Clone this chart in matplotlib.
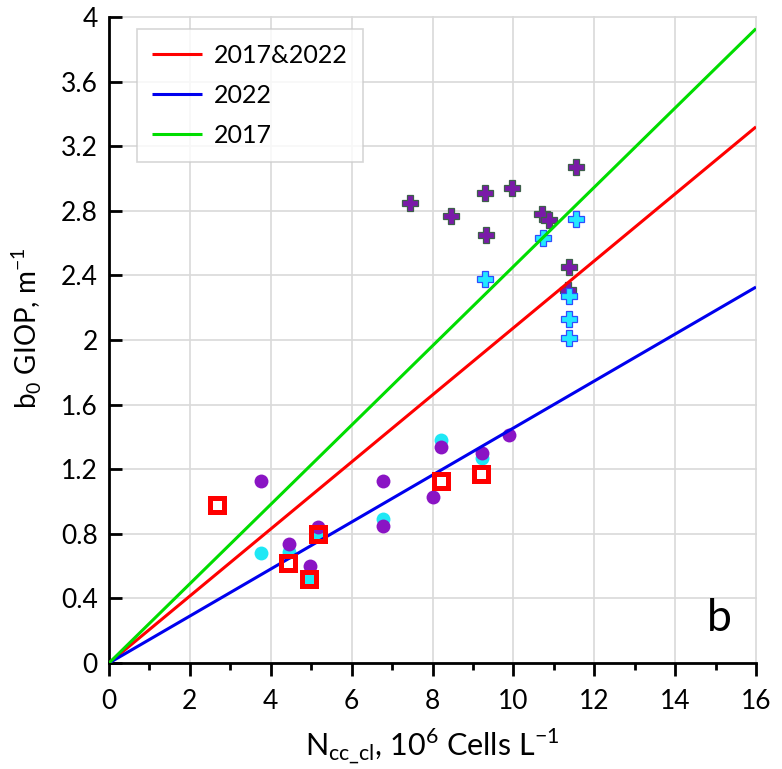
import numpy as np
import matplotlib.pyplot as plt
from matplotlib.ticker import MultipleLocator

plt.rcParams['font.family'] = ['Lato', 'DejaVu Sans']
plt.rcParams['mathtext.fontset'] = 'custom'
plt.rcParams['mathtext.rm'] = 'Lato'

# regression slopes (b0 = k * N)
fit_labels = ["2017&2022", "2022", "2017"]
fit_slopes = [0.2075, 0.1455, 0.2455]
fit_colors = ["#ff0000", "#0000ee", "#00dd00"]

# circles, purple
circ_p_x = [3.77, 6.78, 8.20, 8.00, 9.22, 9.90, 6.78, 4.44, 5.18, 4.97]
circ_p_y = [1.13, 1.13, 1.34, 1.03, 1.30, 1.41, 0.85, 0.74, 0.84, 0.60]

# circles, cyan
circ_c_x = [3.77, 6.78, 8.20, 9.22, 4.44, 5.18, 4.95]
circ_c_y = [0.68, 0.89, 1.38, 1.27, 0.69, 0.80, 0.52]

# crosses, purple
plus_p_x = [7.44, 8.45, 9.30, 9.97, 9.32, 11.55, 10.71, 10.88, 11.38, 11.36]
plus_p_y = [2.85, 2.77, 2.91, 2.94, 2.65, 3.07, 2.78, 2.74, 2.45, 2.31]

# crosses, cyan
plus_c_x = [9.31, 10.74, 11.56, 11.38, 11.38, 11.38]
plus_c_y = [2.38, 2.63, 2.75, 2.27, 2.13, 2.01]

# squares, red
sq_x = [2.68, 4.43, 5.18, 4.95, 8.20, 9.20]
sq_y = [0.98, 0.62, 0.80, 0.52, 1.13, 1.17]

fig = plt.figure(figsize=(7.82, 7.69), dpi=100)
ax = fig.add_axes([0.1394, 0.1378, 0.8274, 0.8401])

xx = np.array([0, 16])
for lab, k, c in zip(fit_labels, fit_slopes, fit_colors):
    ax.plot(xx, k * xx, color=c, lw=2.2, label=lab, zorder=4, solid_capstyle='butt')

ax.plot(circ_c_x, circ_c_y, 'o', color="#1ee8f5", ms=10, mec='none', zorder=2)
ax.plot(circ_p_x, circ_p_y, 'o', color="#8a14c4", ms=10, mec='none', zorder=3)
ax.plot(plus_p_x, plus_p_y, 'P', color="#7a1aa8", ms=12, mec="#3d5f4a", mew=0.9, zorder=3)
ax.plot(plus_c_x, plus_c_y, 'P', color="#22e8ff", ms=12, mec="#2f4cff", mew=0.9, zorder=3)
ax.plot(sq_x, sq_y, 's', mfc='none', mec="#ff0000", ms=9.5, mew=3.6, zorder=5)

ax.set_xlim(0, 16)
ax.set_ylim(0, 4)
ax.xaxis.set_major_locator(MultipleLocator(2))
ax.xaxis.set_minor_locator(MultipleLocator(1))
ax.set_yticks(np.arange(0, 4.01, 0.4))
ax.set_yticklabels(["0", "0.4", "0.8", "1.2", "1.6", "2", "2.4", "2.8", "3.2", "3.6", "4"])

ax.grid(True, which='major', color="#d9d9d9", lw=1.2, clip_on=False)
ax.set_axisbelow(True)
for s in ['top', 'right']:
    ax.spines[s].set_visible(False)
for s in ['left', 'bottom']:
    ax.spines[s].set_linewidth(2)

ax.tick_params(axis='x', which='major', direction='out', length=9, width=2, labelsize=19, pad=10)
ax.tick_params(axis='x', which='minor', direction='out', length=5, width=2)
ax.tick_params(axis='y', which='major', direction='in', length=9, width=2, labelsize=19, pad=8)

ax.set_xlabel(r"N$_{\mathregular{cc\_cl}}$, 10$^{\mathregular{6}}$ Cells L$^{\mathregular{-1}}$", fontsize=22, labelpad=9)
ax.set_ylabel(r"b$_{\mathregular{0}}$ GIOP, m$^{\mathregular{-1}}$", fontsize=20)
ax.yaxis.set_label_coords(-0.10, 0.519)

ax.text(0.944, 0.05, "b", transform=ax.transAxes, fontsize=32, ha='center', va='baseline')

leg = ax.legend(loc='upper left', bbox_to_anchor=(0.043, 0.982), fontsize=18, frameon=True,
                fancybox=False, edgecolor="#cccccc", handlelength=2.0, borderpad=0.6,
                labelspacing=0.68, handletextpad=0.5, borderaxespad=0)
leg.get_frame().set_linewidth(1.2)

fig.savefig("out.png", dpi=100)
